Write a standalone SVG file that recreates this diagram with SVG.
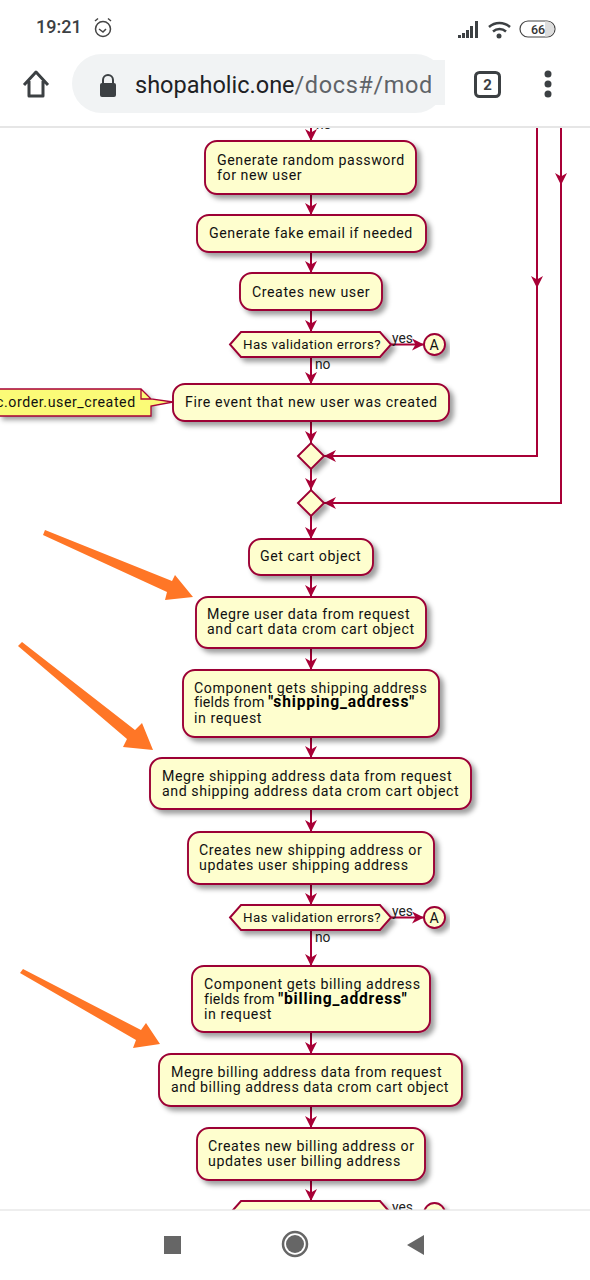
<svg xmlns="http://www.w3.org/2000/svg" width="590" height="1280" viewBox="0 0 590 1280">
<style>
.n{fill:#fefece;stroke:#9c0235;stroke-width:1.9;filter:url(#s)}
.t{font-family:Roboto,"Liberation Sans",sans-serif;font-size:14.2px;letter-spacing:.56px;fill:#111;transform:translateY(.4px)}
.f{letter-spacing:.2px}
.b{font-weight:700;font-size:15.6px;letter-spacing:.8px;fill:#000}
.h{font-size:13.4px;letter-spacing:.38px}
.l{font-family:Roboto,"Liberation Sans",sans-serif;font-size:13.8px;fill:#222}
.c{fill:none;stroke:#a80036;stroke-width:2}
.o{fill:#ff7626}
.ui{font-family:Roboto,"Liberation Sans",sans-serif}
</style>
<defs>
<filter id="s" x="-20%" y="-30%" width="140%" height="170%"><feDropShadow dx="4" dy="4" stdDeviation="2.5" flood-color="#000" flood-opacity=".38"/></filter>
<marker id="a" markerUnits="userSpaceOnUse" viewBox="0 0 13 14" refX="12" refY="7" markerWidth="13" markerHeight="14" orient="auto"><path d="M0 1L12 7L0 13L3.500 7Z" fill="#a80036"/></marker>
</defs>
<rect width="590" height="1280" fill="#fff"/>
<g id="connectors">
<path class="c" d="M311 120V141" marker-end="url(#a)"/>
<path class="c" d="M311 194V215" marker-end="url(#a)"/>
<path class="c" d="M311 252V273" marker-end="url(#a)"/>
<path class="c" d="M311 310V332" marker-end="url(#a)"/>
<path class="c" d="M391 344.500H424" marker-end="url(#a)"/>
<path class="c" d="M311 357V384" marker-end="url(#a)"/>
<path class="c" d="M311 421V443" marker-end="url(#a)"/>
<path class="c" d="M311 469V490" marker-end="url(#a)"/>
<path class="c" d="M311 516V539" marker-end="url(#a)"/>
<path class="c" d="M311 575V597" marker-end="url(#a)"/>
<path class="c" d="M311 648V670" marker-end="url(#a)"/>
<path class="c" d="M311 737V758" marker-end="url(#a)"/>
<path class="c" d="M311 809V832" marker-end="url(#a)"/>
<path class="c" d="M311 884V905" marker-end="url(#a)"/>
<path class="c" d="M391 917.500H424" marker-end="url(#a)"/>
<path class="c" d="M311 930V966" marker-end="url(#a)"/>
<path class="c" d="M311 1032V1054" marker-end="url(#a)"/>
<path class="c" d="M311 1106V1128" marker-end="url(#a)"/>
<path class="c" d="M311 1180V1201" marker-end="url(#a)"/>
<path class="c" d="M537 120V288" marker-end="url(#a)"/>
<path class="c" d="M537 280V456H324" marker-end="url(#a)"/>
<path class="c" d="M561 120V185" marker-end="url(#a)"/>
<path class="c" d="M561 180V503H324" marker-end="url(#a)"/>
</g>
<g id="labels">
<text class="l" x="316" y="129">no</text>
<text class="l" x="392" y="343">yes</text>
<text class="l" x="315" y="369">no</text>
<text class="l" x="392" y="916">yes</text>
<text class="l" x="315" y="942">no</text>
<text class="l" x="392" y="1212">yes</text>
</g>
<g id="n1"><rect class="n" x="205" y="141" width="211" height="53" rx="12"/><text class="t" x="217" y="164.500">Generate random password</text><text class="t" x="217" y="179.500">for new user</text></g>
<g id="n2"><rect class="n" x="197" y="215" width="229" height="37" rx="12"/><text class="t" x="209" y="238">Generate fake email if needed</text></g>
<g id="n3"><rect class="n" x="240" y="273" width="142" height="37" rx="12"/><text class="t" x="252" y="297">Creates new user</text></g>
<g id="d1"><path class="n" d="M230 344.500L241 332H380L391 344.500L380 357H241Z"/><text class="t h" x="243" y="349">Has validation errors?</text></g>
<g id="a1"><circle class="n" cx="434.500" cy="344.500" r="10.500"/><text class="t" x="434.500" y="349.500" text-anchor="middle">A</text></g>
<g id="note"><path d="M-2 389H141L151 399V416H-2Z" fill="#fbfb77" style="filter:url(#s)"/><path d="M-2 389H141L151 399L173 402L151 406V416H-2M141 389V399H151" fill="#fbfb77" stroke="#a80036" stroke-width="1.300"/><text class="t" x="-4" y="407">c.order.user_created</text></g>
<g id="n4"><rect class="n" x="173" y="384" width="276" height="37" rx="12"/><text class="t" x="185" y="407" style="letter-spacing:.62px">Fire event that new user was created</text></g>
<g id="m1"><path class="n" d="M298 456L311 443L324 456L311 469Z"/></g>
<g id="m2"><path class="n" d="M298 503L311 490L324 503L311 516Z"/></g>
<g id="n5"><rect class="n" x="249" y="539" width="124" height="36" rx="12"/><text class="t" x="260" y="561">Get cart object</text></g>
<g id="n6"><rect class="n" x="196" y="597" width="230" height="51" rx="12"/><text class="t" x="207" y="619">Megre user data from request</text><text class="t" x="207" y="634">and cart data crom cart object</text></g>
<g id="n7"><rect class="n" x="183" y="670" width="256" height="67" rx="12"/><text class="t" x="194" y="692.500">Component gets shipping address</text><text class="t f" x="194" y="707">fields from <tspan class="b">"shipping_address"</tspan></text><text class="t" x="194" y="723">in request</text></g>
<g id="n8"><rect class="n" x="150" y="758" width="321" height="51" rx="12"/><text class="t" x="162" y="781">Megre shipping address data from request</text><text class="t" x="162" y="796">and shipping address data crom cart object</text></g>
<g id="n9"><rect class="n" x="188" y="832" width="246" height="52" rx="12"/><text class="t" x="199" y="855">Creates new shipping address or</text><text class="t" x="199" y="870">updates user shipping address</text></g>
<g id="d2"><path class="n" d="M230 917.500L241 905H380L391 917.500L380 930H241Z"/><text class="t h" x="243" y="922">Has validation errors?</text></g>
<g id="a2"><circle class="n" cx="434.500" cy="917.500" r="10.500"/><text class="t" x="434.500" y="922.500" text-anchor="middle">A</text></g>
<g id="n10"><rect class="n" x="192" y="966" width="238" height="66" rx="12"/><text class="t" x="204" y="989">Component gets billing address</text><text class="t f" x="204" y="1004">fields from <tspan class="b">"billing_address"</tspan></text><text class="t" x="204" y="1019">in request</text></g>
<g id="n11"><rect class="n" x="159" y="1054" width="303" height="52" rx="12"/><text class="t" x="171" y="1077" style="letter-spacing:.5px">Megre billing address data from request</text><text class="t" x="171" y="1092" style="letter-spacing:.5px">and billing address data crom cart object</text></g>
<g id="n12"><rect class="n" x="197" y="1128" width="228" height="52" rx="12"/><text class="t" x="208" y="1151">Creates new billing address or</text><text class="t" x="208" y="1166">updates user billing address</text></g>
<g id="d3"><path class="n" d="M230 1213.500L241 1201H380L391 1213.500L380 1226H241Z"/></g>
<g id="a3"><circle class="n" cx="434.500" cy="1213.500" r="10.500"/></g>
<g id="arrows">
<path class="o" d="M45 530L172 581L175 575L193 597L165 600L167 592L43 535Z"/>
<path class="o" d="M22 642L135 730L142 723L153 750L123 747L127 739L18 646Z"/>
<path class="o" d="M23 969L141 1030L146 1023L160 1044L133 1048L136 1040L20 973Z"/>
</g>
<g id="browser-top">
<rect y="0" width="590" height="126" fill="#fff"/>
<rect y="126" width="590" height="2" fill="#e6e6e6"/>
<text class="ui" x="36" y="33" font-size="18" font-weight="500" fill="#3c4043">19:21</text>
<g fill="none" stroke="#444" stroke-width="1.500"><circle cx="103" cy="29" r="7.500"/><path d="M99 29l4 3 3-3M95 21l3-2.500M111 21l-3-2.500"/></g>
<path d="M458 38v-3h3v3zM462 38v-5h3v5zM466 38v-8h3v8zM470 38v-12h3v12zM475 38v-17h3v17z" fill="#3c4043"/>
<g fill="none" stroke="#3c4043" stroke-width="2.500"><path d="M489 27a16 16 0 0 1 21 0M493 31.500a10 10 0 0 1 13 0"/></g><circle cx="499" cy="36" r="2.500" fill="#3c4043"/>
<rect x="520" y="21" width="35" height="16" rx="8" fill="#fff" stroke="#444" stroke-width="1.200"/><path d="M545 21.600h2a7.400 7.400 0 0 1 0 14.800h-2z" fill="#ddd"/>
<text class="ui" x="538" y="34" font-size="12.500" font-weight="500" text-anchor="middle" fill="#333">66</text>
<path d="M24 86L36 73L48 86M29 82V97H43V82" transform="translate(0 -1)" fill="none" stroke="#3c4043" stroke-width="3" stroke-linejoin="round"/>
<rect x="72" y="54" width="373" height="59" rx="29.500" fill="#f1f3f4"/>
<rect x="100" y="83" width="16" height="14" rx="2" fill="#3c4043"/><path d="M103 84v-4a5 5 0 0 1 10 0v4" fill="none" stroke="#3c4043" stroke-width="2"/>
<text class="ui" x="135" y="93" font-size="23.500" fill="#202124">shopaholic.one<tspan fill="#5f6368" letter-spacing=".6">/docs#/mod</tspan></text>
<rect x="431" y="60" width="14" height="45" fill="#f1f3f4"/>
<rect x="475.500" y="72.500" width="24" height="24" rx="4" fill="none" stroke="#3c4043" stroke-width="3"/>
<text class="ui" x="487.500" y="90" font-size="15" font-weight="700" text-anchor="middle" fill="#3c4043">2</text>
<circle cx="548" cy="74" r="3.500" fill="#3c4043"/><circle cx="548" cy="84" r="3.500" fill="#3c4043"/><circle cx="548" cy="94" r="3.500" fill="#3c4043"/>
</g>
<g id="browser-bottom">
<rect y="1210" width="590" height="70" fill="#fff"/>
<rect y="1209.500" width="590" height="1" fill="#ddd"/>
<rect x="164" y="1236" width="17" height="18" fill="#666"/>
<circle cx="295" cy="1244" r="12" fill="none" stroke="#666" stroke-width="2.500"/><circle cx="295" cy="1244" r="9" fill="#666"/>
<path d="M424 1235V1255L407 1245Z" fill="#666"/>
</g>
</svg>
